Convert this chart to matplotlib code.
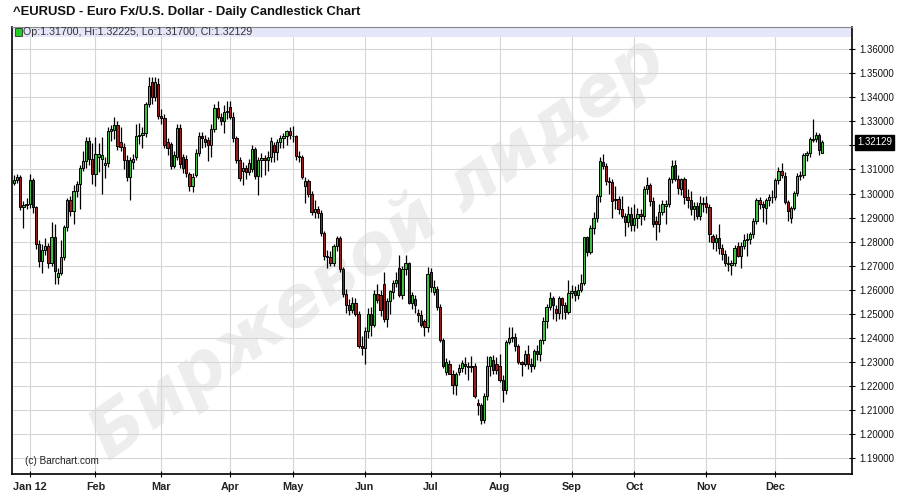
import pandas as pd
import numpy as np
import matplotlib
matplotlib.use('Agg')
import matplotlib.pyplot as plt
import matplotlib.transforms as mtransforms
from matplotlib.patches import Rectangle

plt.rcParams['font.family'] = ['Liberation Sans', 'DejaVu Sans']

# daily bars, 23 Dec 2011 .. 24 Dec 2012 (holidays skipped by the source)
holidays = ['2011-12-26', '2012-01-02', '2012-04-06']

opens = [
    1.3045, 1.3058, 1.3068, 1.2945, 1.2952,
    # Jan
    1.2958, 1.3055, 1.2942, 1.2790, 1.2720, 1.2765, 1.2780, 1.2712, 1.2818, 1.2655, 1.2668,
    1.2735, 1.2862, 1.2972, 1.2928, 1.3010, 1.3040, 1.3107, 1.3135, 1.3220, 1.3145,
    # Feb
    1.3080, 1.3150, 1.3145, 1.3120, 1.3128, 1.3260, 1.3262, 1.3285, 1.3215, 1.3195, 1.3140,
    1.3070, 1.3130, 1.3150, 1.3240, 1.3245, 1.3252, 1.3372, 1.3462, 1.3400, 1.3456,
    # Mar
    1.3321, 1.3315, 1.3215, 1.3205, 1.3114, 1.3150, 1.3272, 1.3150, 1.3145, 1.3082, 1.3032,
    1.3078, 1.3170, 1.3240, 1.3225, 1.3223, 1.3200, 1.3268, 1.3355, 1.3318, 1.3300, 1.3337,
    # Apr
    1.3360, 1.3320, 1.3230, 1.3138, 1.3095, 1.3105, 1.3090, 1.3102, 1.3185, 1.3072,
    1.3140, 1.3148, 1.3140, 1.3150, 1.3200, 1.3172, 1.3215, 1.3230, 1.3240, 1.3260,
    # May
    1.3240, 1.3237, 1.3155, 1.3150, 1.3030, 1.3050, 1.3000, 1.2925, 1.2935, 1.2918, 1.2835, 1.2740,
    1.2735, 1.2710, 1.2782, 1.2817, 1.2685, 1.2582, 1.2535, 1.2515, 1.2545, 1.2500, 1.2366,
    # Jun
    1.2360, 1.2430, 1.2500, 1.2455, 1.2583, 1.2580, 1.2625, 1.2480, 1.2555, 1.2590, 1.2630,
    1.2690, 1.2580, 1.2685, 1.2710, 1.2545, 1.2560, 1.2505, 1.2495, 1.2470, 1.2445,
    # Jul
    1.2673, 1.2590, 1.2605, 1.2528, 1.2390, 1.2260, 1.2292, 1.2252, 1.2203, 1.2260, 1.2275,
    1.2293, 1.2285, 1.2280, 1.2285, 1.2130, 1.2120, 1.2058, 1.2160, 1.2285, 1.2310, 1.2290,
    # Aug
    1.2285, 1.2225, 1.2182, 1.2385, 1.2400, 1.2405, 1.2365, 1.2300, 1.2290, 1.2335, 1.2290, 1.2285,
    1.2345, 1.2335, 1.2390, 1.2472, 1.2528, 1.2565, 1.2520, 1.2505, 1.2565, 1.2535, 1.2508,
    # Sep
    1.2585, 1.2595, 1.2580, 1.2600, 1.2630, 1.2818, 1.2756, 1.2855, 1.2900, 1.2988,
    1.3130, 1.3115, 1.3052, 1.3048, 1.2972, 1.2978, 1.2935, 1.2905, 1.2880, 1.2915,
    # Oct
    1.2868, 1.2900, 1.2915, 1.2905, 1.3020, 1.3035, 1.2970, 1.2885, 1.2873, 1.2925, 1.2950, 1.2958,
    1.3060, 1.3120, 1.3059, 1.3017, 1.3059, 1.2987, 1.2975, 1.2935, 1.2950, 1.2907, 1.2955,
    # Nov
    1.2962, 1.2945, 1.2825, 1.2797, 1.2817, 1.2772, 1.2748, 1.2713, 1.2705, 1.2712, 1.2780,
    1.2742, 1.2783, 1.2805, 1.2810, 1.2830, 1.2886, 1.2973, 1.2955, 1.2940, 1.2975, 1.2985,
    # Dec
    1.2985, 1.3056, 1.3093, 1.3072, 1.2965, 1.2900, 1.2941, 1.3003,
    1.3072, 1.3078, 1.3162, 1.3168, 1.3222, 1.3227, 1.3245, 1.3170,
]

highs = [
    1.3075, 1.3082, 1.3075, 1.2968, 1.2980,
    1.3080, 1.3065, 1.2950, 1.2805, 1.2790, 1.2815, 1.2795, 1.2880, 1.2875, 1.2690, 1.2805,
    1.2870, 1.2980, 1.2990, 1.3035, 1.3050, 1.3120, 1.3175, 1.3235, 1.3235, 1.3210,
    1.3235, 1.3210, 1.3235, 1.3150, 1.3275, 1.3285, 1.3320, 1.3300, 1.3275, 1.3210, 1.3160,
    1.3150, 1.3165, 1.3290, 1.3295, 1.3275, 1.3380, 1.3485, 1.3485, 1.3486, 1.3480,
    1.3350, 1.3330, 1.3230, 1.3215, 1.3175, 1.3290, 1.3290, 1.3165, 1.3160, 1.3090, 1.3085,
    1.3185, 1.3255, 1.3255, 1.3245, 1.3235, 1.3290, 1.3370, 1.3385, 1.3335, 1.3368, 1.3385,
    1.3385, 1.3340, 1.3240, 1.3150, 1.3130, 1.3120, 1.3145, 1.3200, 1.3195, 1.3150,
    1.3170, 1.3160, 1.3175, 1.3235, 1.3215, 1.3225, 1.3245, 1.3250, 1.3265, 1.3275,
    1.3280, 1.3245, 1.3175, 1.3160, 1.3068, 1.3060, 1.3010, 1.2975, 1.2950, 1.2930, 1.2845, 1.2765,
    1.2760, 1.2790, 1.2825, 1.2825, 1.2695, 1.2605, 1.2560, 1.2570, 1.2565, 1.2510, 1.2410,
    1.2445, 1.2525, 1.2530, 1.2600, 1.2625, 1.2600, 1.2672, 1.2565, 1.2600, 1.2640, 1.2675,
    1.2745, 1.2700, 1.2745, 1.2715, 1.2590, 1.2580, 1.2520, 1.2515, 1.2480, 1.2693,
    1.2690, 1.2640, 1.2615, 1.2540, 1.2400, 1.2315, 1.2310, 1.2265, 1.2260, 1.2290, 1.2310,
    1.2320, 1.2300, 1.2325, 1.2295, 1.2147, 1.2130, 1.2170, 1.2325, 1.2325, 1.2330, 1.2320,
    1.2335, 1.2245, 1.2390, 1.2445, 1.2445, 1.2420, 1.2375, 1.2305, 1.2350, 1.2370, 1.2315, 1.2355,
    1.2370, 1.2395, 1.2485, 1.2540, 1.2590, 1.2575, 1.2535, 1.2575, 1.2570, 1.2550, 1.2640,
    1.2620, 1.2615, 1.2625, 1.2665, 1.2820, 1.2825, 1.2870, 1.2925, 1.3000, 1.3150,
    1.3163, 1.3125, 1.3070, 1.3060, 1.3030, 1.2990, 1.2990, 1.2920, 1.2950, 1.2945,
    1.2955, 1.2940, 1.2935, 1.3030, 1.3070, 1.3045, 1.2985, 1.2905, 1.2955, 1.2975, 1.2975, 1.3070,
    1.3140, 1.3140, 1.3075, 1.3065, 1.3070, 1.3020, 1.3010, 1.2965, 1.2965, 1.2990, 1.2985,
    1.2990, 1.2955, 1.2830, 1.2830, 1.2875, 1.2790, 1.2765, 1.2740, 1.2725, 1.2785, 1.2800,
    1.2800, 1.2830, 1.2835, 1.2840, 1.2900, 1.2980, 1.2985, 1.2970, 1.2980, 1.3000, 1.3015,
    1.3065, 1.3110, 1.3125, 1.3090, 1.2975, 1.2950, 1.3010, 1.3085,
    1.3095, 1.3170, 1.3175, 1.3235, 1.3308, 1.3255, 1.3250, 1.32225,
]

lows = [
    1.3035, 1.3045, 1.2930, 1.2858, 1.2935,
    1.2940, 1.2920, 1.2770, 1.2695, 1.2670, 1.2745, 1.2690, 1.2700, 1.2625, 1.2625, 1.2660,
    1.2725, 1.2845, 1.2905, 1.2875, 1.2985, 1.2935, 1.3095, 1.3105, 1.3120, 1.3040,
    1.3030, 1.3090, 1.3000, 1.3065, 1.3110, 1.3220, 1.3225, 1.3180, 1.3175, 1.3100, 1.3050,
    1.2975, 1.3100, 1.3140, 1.3205, 1.3190, 1.3235, 1.3360, 1.3370, 1.3385, 1.3310,
    1.3290, 1.3190, 1.3160, 1.3100, 1.3105, 1.3140, 1.3105, 1.3085, 1.3070, 1.3010, 1.3005,
    1.3070, 1.3155, 1.3190, 1.3195, 1.3135, 1.3150, 1.3255, 1.3310, 1.3285, 1.3251, 1.3310,
    1.3310, 1.3215, 1.3125, 1.3050, 1.3035, 1.3060, 1.3075, 1.3090, 1.3060, 1.2992,
    1.3070, 1.3075, 1.3095, 1.3130, 1.3130, 1.3140, 1.3190, 1.3190, 1.3200, 1.3225,
    1.3215, 1.3140, 1.3130, 1.3060, 1.2960, 1.2985, 1.2910, 1.2900, 1.2900, 1.2825, 1.2725, 1.2690,
    1.2700, 1.2700, 1.2760, 1.2675, 1.2570, 1.2505, 1.2495, 1.2505, 1.2490, 1.2360, 1.2330,
    1.2290, 1.2400, 1.2410, 1.2445, 1.2545, 1.2490, 1.2465, 1.2445, 1.2500, 1.2560, 1.2610,
    1.2570, 1.2560, 1.2660, 1.2540, 1.2520, 1.2505, 1.2465, 1.2445, 1.2410, 1.2425,
    1.2590, 1.2580, 1.2515, 1.2385, 1.2275, 1.2245, 1.2250, 1.2165, 1.2163, 1.2245, 1.2260,
    1.2250, 1.2225, 1.2260, 1.2150, 1.2080, 1.2042, 1.2045, 1.2140, 1.2240, 1.2250, 1.2250,
    1.2215, 1.2135, 1.2165, 1.2375, 1.2385, 1.2345, 1.2290, 1.2240, 1.2285, 1.2270, 1.2260, 1.2270,
    1.2310, 1.2305, 1.2375, 1.2440, 1.2515, 1.2480, 1.2470, 1.2480, 1.2480, 1.2480, 1.2500,
    1.2565, 1.2555, 1.2560, 1.2590, 1.2620, 1.2740, 1.2750, 1.2830, 1.2880, 1.2965,
    1.3100, 1.3035, 1.3000, 1.2900, 1.2935, 1.2915, 1.2900, 1.2825, 1.2860, 1.2845,
    1.2845, 1.2855, 1.2870, 1.2890, 1.3000, 1.2950, 1.2860, 1.2805, 1.2840, 1.2910, 1.2875, 1.2945,
    1.3045, 1.3050, 1.3000, 1.2995, 1.2955, 1.2940, 1.2910, 1.2890, 1.2895, 1.2890, 1.2925,
    1.2920, 1.2800, 1.2770, 1.2760, 1.2750, 1.2725, 1.2700, 1.2680, 1.2662, 1.2700, 1.2735,
    1.2690, 1.2770, 1.2740, 1.2790, 1.2815, 1.2875, 1.2935, 1.2880, 1.2875, 1.2950, 1.2960,
    1.2975, 1.3040, 1.3065, 1.2955, 1.2885, 1.2878, 1.2930, 1.2990,
    1.3055, 1.3065, 1.3135, 1.3150, 1.3215, 1.3215, 1.3160, 1.3170,
]

closes = [
    1.3058, 1.3068, 1.2945, 1.2952, 1.2958,
    1.3055, 1.2942, 1.2790, 1.2720, 1.2765, 1.2780, 1.2712, 1.2818, 1.2680, 1.2668, 1.2735,
    1.2862, 1.2972, 1.2928, 1.3010, 1.3040, 1.3107, 1.3135, 1.3220, 1.3145, 1.3080,
    1.3165, 1.3165, 1.3160, 1.3128, 1.3260, 1.3268, 1.3285, 1.3197, 1.3195, 1.3140, 1.3070,
    1.3140, 1.3145, 1.3240, 1.3245, 1.3252, 1.3372, 1.3445, 1.3400, 1.3463, 1.3321,
    1.3315, 1.3200, 1.3190, 1.3114, 1.3162, 1.3272, 1.3124, 1.3108, 1.3085, 1.3032, 1.3070,
    1.3170, 1.3240, 1.3230, 1.3214, 1.3203, 1.3268, 1.3355, 1.3318, 1.3303, 1.3337, 1.3345,
    1.3320, 1.3230, 1.3138, 1.3065, 1.3105, 1.3090, 1.3125, 1.3185, 1.3072, 1.3140,
    1.3148, 1.3140, 1.3150, 1.3220, 1.3172, 1.3215, 1.3232, 1.3240, 1.3258, 1.3245,
    1.3237, 1.3155, 1.3150, 1.3070, 1.3050, 1.3000, 1.2925, 1.2935, 1.2918, 1.2835, 1.2740, 1.2735,
    1.2710, 1.2782, 1.2817, 1.2685, 1.2582, 1.2535, 1.2515, 1.2545, 1.2500, 1.2366, 1.2360,
    1.2430, 1.2500, 1.2455, 1.2583, 1.2557, 1.2515, 1.2480, 1.2555, 1.2597, 1.2630, 1.2640,
    1.2580, 1.2685, 1.2710, 1.2545, 1.2577, 1.2535, 1.2495, 1.2455, 1.2445, 1.2665,
    1.2610, 1.2611, 1.2528, 1.2390, 1.2285, 1.2300, 1.2252, 1.2203, 1.2250, 1.2275, 1.2297,
    1.2285, 1.2280, 1.2285, 1.2158, 1.2120, 1.2058, 1.2160, 1.2285, 1.2320, 1.2265, 1.2268,
    1.2225, 1.2182, 1.2385, 1.2400, 1.2405, 1.2365, 1.2300, 1.2290, 1.2335, 1.2290, 1.2285, 1.2345,
    1.2335, 1.2390, 1.2472, 1.2528, 1.2565, 1.2535, 1.2505, 1.2565, 1.2535, 1.2508, 1.2585,
    1.2595, 1.2580, 1.2600, 1.2630, 1.2818, 1.2756, 1.2855, 1.2900, 1.2988, 1.3135,
    1.3115, 1.3052, 1.3048, 1.2970, 1.2978, 1.2935, 1.2905, 1.2880, 1.2915, 1.2868,
    1.2900, 1.2915, 1.2905, 1.3020, 1.3035, 1.2970, 1.2875, 1.2873, 1.2925, 1.2955, 1.2958, 1.3060,
    1.3114, 1.3059, 1.3024, 1.3059, 1.2987, 1.2975, 1.2935, 1.2950, 1.2907, 1.2962, 1.2962,
    1.2945, 1.2832, 1.2797, 1.2815, 1.2772, 1.2748, 1.2711, 1.2708, 1.2712, 1.2775, 1.2742,
    1.2783, 1.2805, 1.2810, 1.2830, 1.2886, 1.2973, 1.2955, 1.2942, 1.2975, 1.2985, 1.2985,
    1.3056, 1.3093, 1.3075, 1.2965, 1.2928, 1.2941, 1.3003, 1.3072,
    1.3078, 1.3162, 1.3168, 1.3227, 1.3227, 1.3245, 1.3180, 1.32129,
]

price_ticks = [1.19, 1.20, 1.21, 1.22, 1.23, 1.24, 1.25, 1.26, 1.27, 1.28,
               1.29, 1.30, 1.31, 1.32, 1.33, 1.34, 1.35, 1.36]

title = '^EURUSD - Euro Fx/U.S. Dollar - Daily Candlestick Chart'
legend_text = 'Op:1.31700, Hi:1.32225, Lo:1.31700, Cl:1.32129'
watermark = 'Биржевой лидер'
last_price = 1.32129


def makePlot():
    dates = pd.bdate_range('2011-12-23', '2012-12-24')
    dates = dates.drop(pd.to_datetime(holidays))
    df = pd.DataFrame({'open': opens, 'high': highs, 'low': lows, 'close': closes}, index=dates)
    x = np.arange(len(df))

    fig = plt.figure(figsize=(9, 4.99), dpi=100)
    ax = fig.add_axes([12 / 900, 25 / 499, 840 / 900, 447 / 499])

    # watermark, behind the candles
    ax.text(0.42, 0.5, watermark, transform=fig.transFigure, fontsize=50,
            fontweight='bold', style='italic', color='#ededed', rotation=35,
            ha='center', va='center', zorder=0.5, clip_on=False,
            family=['DejaVu Sans'])

    # candles
    up = df['close'] >= df['open']
    ax.vlines(x, df['low'], df['high'], color='black', linewidth=0.9, zorder=3)
    body_low = np.minimum(df['open'], df['close'])
    body_h = np.maximum((df['close'] - df['open']).abs(), 0.00025)
    colors = np.where(up, '#40c040', '#9c1c1c')
    ax.bar(x, body_h, bottom=body_low, width=0.72, color=colors, edgecolor='black',
           linewidth=0.7, zorder=4)

    ax.set_xlim(-0.64, 267.5)
    ax.set_ylim(1.18345, 1.3692)

    # month ticks at first bar of each month
    months = df.index.to_period('M')
    first = [i for i in range(1, len(df)) if months[i] != months[i - 1]]
    labels = []
    for i in first:
        d = df.index[i]
        labels.append(d.strftime('%b %y') if d.month == 1 else d.strftime('%b'))
    ax.set_xticks(first)
    ax.set_xticklabels(labels, fontweight='bold', fontsize=7.8, color='#222222')

    ax.yaxis.tick_right()
    ax.set_yticks(price_ticks)
    # the last-price box sits over the 1.32 label
    ylabels = ['' if abs(p - 1.32) < 1e-9 else f'{p:.5f}' for p in price_ticks]
    ax.set_yticklabels(ylabels, fontsize=6.9, color='#111111')
    ax.tick_params(axis='y', direction='inout', length=5, width=0.8, pad=3)
    ax.tick_params(axis='x', direction='inout', length=5, width=0.8, pad=3)

    ax.grid(True, color='#d6d6d6', linewidth=0.8, zorder=0)
    ax.set_axisbelow(True)
    for side in ['left', 'bottom', 'right']:
        ax.spines[side].set_linewidth(1.2)
        ax.spines[side].set_color('black')
    ax.spines['top'].set_color('#888888')
    ax.spines['top'].set_linewidth(0.8)

    # legend band
    ax.add_patch(Rectangle((0, 1 - 10 / 447), 1, 10 / 447, transform=ax.transAxes,
                           facecolor='#e6e6fa', edgecolor='none', zorder=1))
    ax.add_patch(Rectangle((0.004, 1 - 8.5 / 447), 6.5 / 840, 7 / 447, transform=ax.transAxes,
                           facecolor='#22cc22', edgecolor='#333333', linewidth=0.6, zorder=5))
    ax.text(11 / 840, 1 - 5 / 447, legend_text, transform=ax.transAxes, fontsize=7.7,
            color='#333333', va='center', ha='left', zorder=5)

    # last price box
    trans = mtransforms.blended_transform_factory(ax.transAxes, ax.transData)
    ax.text(1.006, last_price, f'{last_price:.5f}', transform=trans, fontsize=6.9,
            color='white', va='center', ha='left', zorder=6,
            bbox=dict(boxstyle='square,pad=0.25', facecolor='black', edgecolor='black'))

    ax.text(13 / 840, 13.5 / 447, '(c) Barchart.com', transform=ax.transAxes, fontsize=7.2,
            color='#222222', va='center', ha='left', zorder=5)

    fig.text(13 / 900, 1 - 12.5 / 499, title, fontsize=9.4, fontweight='bold',
             color='#111111', va='center', ha='left')

    fig.savefig('out.png', dpi=100, facecolor='white')


def main():
    makePlot()


if __name__ == '__main__':
    main()
